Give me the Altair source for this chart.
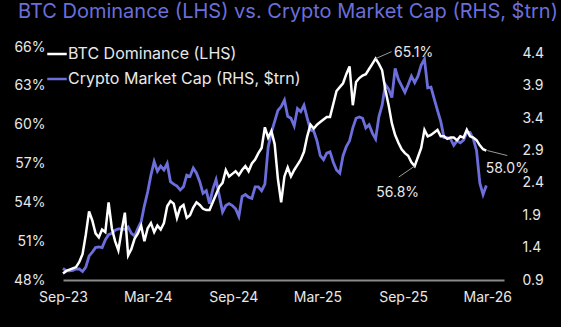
import altair as alt
import pandas as pd

# ---------------- data ----------------
series_names = ["BTC Dominance (LHS)", "Crypto Market Cap (RHS, $trn)"]

dates = pd.date_range("2023-09-01", periods=131, freq="7D")

btc_dom = [
    48.5, 48.7, 48.8, 48.9, 49.0, 49.4, 50.0, 51.5, 53.3, 52.6,
    51.6, 51.3, 51.9, 51.7, 54.0, 52.0, 51.0, 50.3, 51.8, 53.2,
    49.9, 50.4, 51.2, 51.6, 52.2, 51.0, 52.0, 52.4, 51.7, 52.2,
    51.9, 52.4, 53.7, 54.1, 53.9, 52.8, 53.6, 53.8, 52.8, 53.0,
    53.6, 54.0, 53.8, 53.5, 53.4, 53.4, 54.0, 54.6, 55.2, 55.5,
    56.5, 56.0, 56.2, 56.4, 56.1, 56.5, 56.8, 56.4, 57.0, 57.3,
    57.8, 58.2, 59.8, 59.0, 59.5, 58.5, 55.8, 54.0, 56.0, 56.7,
    56.0, 56.5, 56.9, 57.3, 57.9, 59.1, 60.0, 59.7, 60.0, 60.2,
    60.4, 60.6, 60.6, 61.6, 62.6, 62.9, 63.2, 63.9, 64.5, 61.5,
    63.3, 63.6, 63.8, 63.9, 64.3, 64.7, 65.1, 64.7, 64.2, 62.7,
    61.5, 60.1, 59.2, 58.6, 58.1, 57.8, 57.6, 57.1, 56.8, 57.5,
    58.2, 59.6, 59.1, 59.2, 59.4, 59.6, 59.1, 59.1, 58.9, 59.0,
    59.0, 58.8, 59.1, 59.0, 59.6, 59.1, 59.0, 58.8, 58.4, 58.1,
    58.0,
]

mcap = [
    1.08, 1.04, 1.04, 1.05, 1.07, 1.07, 1.03, 1.10, 1.27, 1.33,
    1.40, 1.41, 1.40, 1.52, 1.60, 1.62, 1.67, 1.69, 1.69, 1.68,
    1.72, 1.62, 1.58, 1.70, 1.80, 2.05, 2.26, 2.52, 2.73, 2.58,
    2.66, 2.60, 2.70, 2.42, 2.38, 2.35, 2.29, 2.34, 2.52, 2.50,
    2.63, 2.55, 2.42, 2.24, 2.28, 2.08, 2.30, 2.45, 2.20, 1.95,
    2.05, 2.08, 2.05, 2.00, 1.88, 2.19, 2.22, 2.18, 2.16, 2.34,
    2.34, 2.28, 2.38, 2.95, 3.18, 3.35, 3.52, 3.58, 3.68, 3.43,
    3.40, 3.28, 3.55, 3.50, 3.60, 3.40, 3.22, 3.20, 3.05, 2.82,
    2.76, 2.86, 2.88, 2.72, 2.60, 2.55, 2.82, 2.96, 3.05, 3.25,
    3.40, 3.42, 3.40, 3.25, 3.30, 3.17, 3.08, 3.42, 3.60, 3.92,
    3.85, 3.72, 4.17, 4.00, 3.90, 3.80, 3.92, 4.05, 3.95, 4.05,
    4.22, 4.31, 3.87, 3.88, 3.70, 3.52, 3.35, 3.10, 3.10, 3.08,
    2.98, 3.05, 3.02, 3.06, 3.18, 3.18, 3.08, 2.90, 2.40, 2.22,
    2.36,
]

left_ticks = [48, 51, 54, 57, 60, 63, 66]
right_ticks = [0.9, 1.4, 1.9, 2.4, 2.9, 3.4, 3.9, 4.4]

# annotations: label text and the point they refer to
ann_labels = ["65.1%", "56.8%", "58.0%"]
ann_index = [96, 108, 130]

# ---------------- styling ----------------
BLUE = "#6B6EDB"
FONT = "Inter"
LABEL_COLOR = "#e8e8e8"

long = pd.concat([
    pd.DataFrame({"date": dates, "value": btc_dom, "series": series_names[0]}),
    pd.DataFrame({"date": dates, "value": mcap, "series": series_names[1]}),
], ignore_index=True)

ann = pd.DataFrame({
    "date": [dates[i] for i in ann_index],
    "value": [btc_dom[i] for i in ann_index],
    "label": ann_labels,
})

x_enc = alt.X(
    "date:T",
    scale=alt.Scale(domain=[alt.DateTime(year=2023, month=9, date=1),
                            alt.DateTime(year=2026, month=4, date=6)]),
    axis=alt.Axis(
        title=None, format="%b-%y",
        values=[alt.DateTime(year=2023, month=9, date=1),
                alt.DateTime(year=2024, month=3, date=1),
                alt.DateTime(year=2024, month=9, date=1),
                alt.DateTime(year=2025, month=3, date=1),
                alt.DateTime(year=2025, month=9, date=1),
                alt.DateTime(year=2026, month=3, date=1)],
        domain=True, domainColor="#8a8a8a", domainWidth=2,
        ticks=False, grid=False, labelPadding=10,
        labelFlush=False, labelOverlap=False, labelBound=False,
        labelFontSize=14, labelColor=LABEL_COLOR, labelFont=FONT,
    ),
)

color_enc = alt.Color(
    "series:N",
    scale=alt.Scale(domain=series_names, range=["#ffffff", BLUE]),
    legend=alt.Legend(
        title=None, orient="none", legendX=-17, legendY=-4,
        symbolType="stroke", symbolSize=380, symbolStrokeWidth=2.5,
        labelFontSize=16, labelColor=LABEL_COLOR, labelFont=FONT,
        labelLimit=0, labelOffset=0, rowPadding=6, padding=0, offset=0,
    ),
)

left_scale = alt.Scale(domain=[48, 66], nice=False, zero=False)
right_scale = alt.Scale(domain=[0.9, 4.5], nice=False, zero=False)

left_axis = alt.Axis(
    orient="left", title=None, values=left_ticks,
    labelExpr="datum.value + '%'",
    labelOverlap=False, labelFlush=False,
    domain=False, ticks=False, grid=False, labelPadding=18,
    labelFontSize=14, labelColor=LABEL_COLOR, labelFont=FONT,
)

def y_left():
    return alt.Y("value:Q", scale=left_scale, axis=left_axis)

blue_line = alt.Chart(long).transform_filter(
    alt.datum.series == series_names[1]
).mark_line(strokeWidth=2.8).encode(
    x=x_enc,
    y=alt.Y("value:Q", scale=right_scale, axis=alt.Axis(
        orient="right", title=None, values=right_ticks, format=".1f",
        domain=False, ticks=False, grid=False, labelPadding=18,
        labelOverlap=False, labelFlush=False,
        labelFontSize=14, labelColor=LABEL_COLOR, labelFont=FONT,
    )),
    color=color_enc,
)

white_line = alt.Chart(long).transform_filter(
    alt.datum.series == series_names[0]
).mark_line(strokeWidth=2.5).encode(
    x=x_enc,
    y=y_left(),
    color=color_enc,
)

ann_base = alt.Chart(ann)
text_style = dict(fontSize=14, font=FONT, color=LABEL_COLOR,
                  align="center", baseline="middle")

t1 = ann_base.transform_filter(alt.datum.label == ann_labels[0]).mark_text(
    dx=38, dy=-6, **text_style).encode(x=x_enc, y=y_left(), text="label:N")
t2 = ann_base.transform_filter(alt.datum.label == ann_labels[1]).mark_text(
    dx=-17, dy=27, **text_style).encode(x=x_enc, y=y_left(), text="label:N")
t3 = ann_base.transform_filter(alt.datum.label == ann_labels[2]).mark_text(
    dx=21, dy=18, **text_style).encode(x=x_enc, y=y_left(), text="label:N")

rule_style = dict(color="#9a9a9a", strokeWidth=1)
r1 = ann_base.transform_filter(alt.datum.label == ann_labels[0]).mark_rule(
    x2Offset=16, y2Offset=-7, **rule_style).encode(
    x=x_enc, x2="date:T", y=y_left(), y2="value:Q")
r2 = ann_base.transform_filter(alt.datum.label == ann_labels[1]).mark_rule(
    x2Offset=-16, y2Offset=11, **rule_style).encode(
    x=x_enc, x2="date:T", y=y_left(), y2="value:Q")
r3 = ann_base.transform_filter(alt.datum.label == ann_labels[2]).mark_rule(
    xOffset=1, x2Offset=21, y2Offset=5, **rule_style).encode(
    x=x_enc, x2="date:T", y=y_left(), y2="value:Q")

left_group = alt.layer(white_line, r1, r2, r3, t1, t2, t3)

chart = alt.layer(blue_line, left_group).resolve_scale(
    y="independent"
).properties(
    width=441, height=233,
    autosize=alt.AutoSizeParams(type="none"),
    padding={"left": 63, "top": 47, "right": 57, "bottom": 47},
    background="black",
    title=alt.TitleParams(
        "BTC Dominance (LHS) vs. Crypto Market Cap (RHS, $trn)",
        anchor="start", frame="group", dx=-45, dy=-8, offset=10,
        fontSize=20, font=FONT, fontWeight="normal", color=BLUE,
    ),
).configure_view(stroke=None).configure_axis(labelOverlap=False)

chart.save("out.html", embed_options={"renderer": "svg", "actions": False})
